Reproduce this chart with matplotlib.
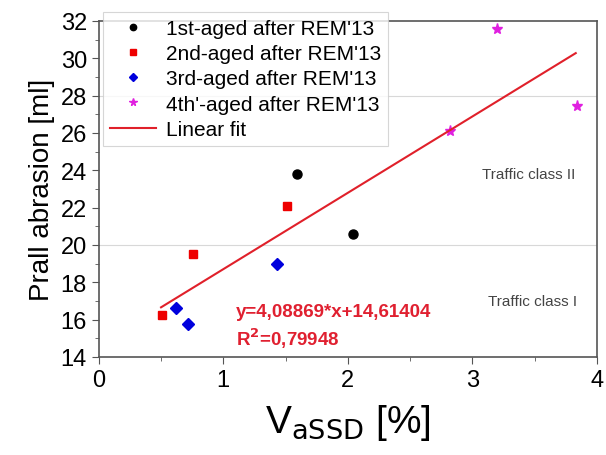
import matplotlib
matplotlib.use("Agg")
import matplotlib.pyplot as plt
import numpy as np

plt.rcParams['font.family'] = ['Liberation Sans', 'DejaVu Sans']

# data
x_1st = [1.59, 2.04]
y_1st = [23.8, 20.6]
x_2nd = [0.51, 0.76, 1.51]
y_2nd = [16.25, 19.5, 22.1]
x_3rd = [0.62, 0.72, 1.43]
y_3rd = [16.6, 15.75, 19.0]
x_4th = [2.82, 3.20, 3.84]
y_4th = [26.1, 31.55, 27.45]

slope = 4.08869
intercept = 14.61404
r2 = 0.79948
fit_range = [0.5, 3.83]

class_limits = [20, 28]

fig = plt.figure(figsize=(6.06, 4.56), dpi=100)
ax = fig.add_axes([0.163, 0.215, 0.822, 0.737])

for yl in class_limits:
    ax.axhline(yl, color='#d8d8d8', lw=0.8, zorder=0)

ax.plot(x_1st, y_1st, 'o', color='black', ms=6.5, ls='none', label="1st-aged after REM'13")
ax.plot(x_2nd, y_2nd, 's', color='#ee0000', ms=6, ls='none', label="2nd-aged after REM'13")
ax.plot(x_3rd, y_3rd, 'D', color='#0000dd', ms=6, ls='none', label="3rd-aged after REM'13")
ax.plot(x_4th, y_4th, '*', color='#e020e0', ms=8, ls='none', label="4th'-aged after REM'13")

xf = np.array(fit_range)
ax.plot(xf, slope * xf + intercept, color='#e0202a', lw=1.5, label='Linear fit')

ax.set_xlim(0, 4)
ax.set_ylim(14, 32)
ax.set_xticks([0, 1, 2, 3, 4])
ax.set_xticks([0.5, 1.5, 2.5, 3.5], minor=True)
ax.set_yticks(np.arange(14, 33, 2))
ax.set_yticks(np.arange(15, 32, 2), minor=True)
ax.tick_params(axis='both', which='major', labelsize=17, direction='out', length=5, color='#555555')
ax.tick_params(axis='both', which='minor', direction='out', length=3, color='#555555')
for s in ax.spines.values():
    s.set_color('#555555')
    s.set_linewidth(1.2)

ax.set_ylabel('Prall abrasion [ml]', fontsize=20, labelpad=4)
ax.set_xlabel(r'V$_{\mathrm{aSSD}}$ [%]', fontsize=28, labelpad=8)

ax.text(3.45, 23.8, 'Traffic class II', fontsize=11, color='#444444', ha='center', va='center')
ax.text(3.48, 17.0, 'Traffic class I', fontsize=11, color='#444444', ha='center', va='center')

eq = 'y=' + f'{slope:.5f}'.replace('.', ',') + '*x+' + f'{intercept:.5f}'.replace('.', ',')
ax.text(1.1, 16.45, eq, fontsize=13.5, color='#e02030', fontweight='bold', va='center')
ax.text(1.1, 15.05, r'R$^{\mathbf{2}}$=' + f'{r2:.5f}'.replace('.', ','), fontsize=13.5,
        color='#e02030', fontweight='bold', va='center')

leg = fig.legend(loc='upper left', bbox_to_anchor=(0.153, 0.995), fontsize=15,
                 frameon=True, fancybox=False, edgecolor='#cccccc', handlelength=2.2,
                 handletextpad=0.45, labelspacing=0.3, borderpad=0.35, markerscale=0.7)
leg.get_frame().set_linewidth(0.8)

fig.savefig('out.png', dpi=100)
